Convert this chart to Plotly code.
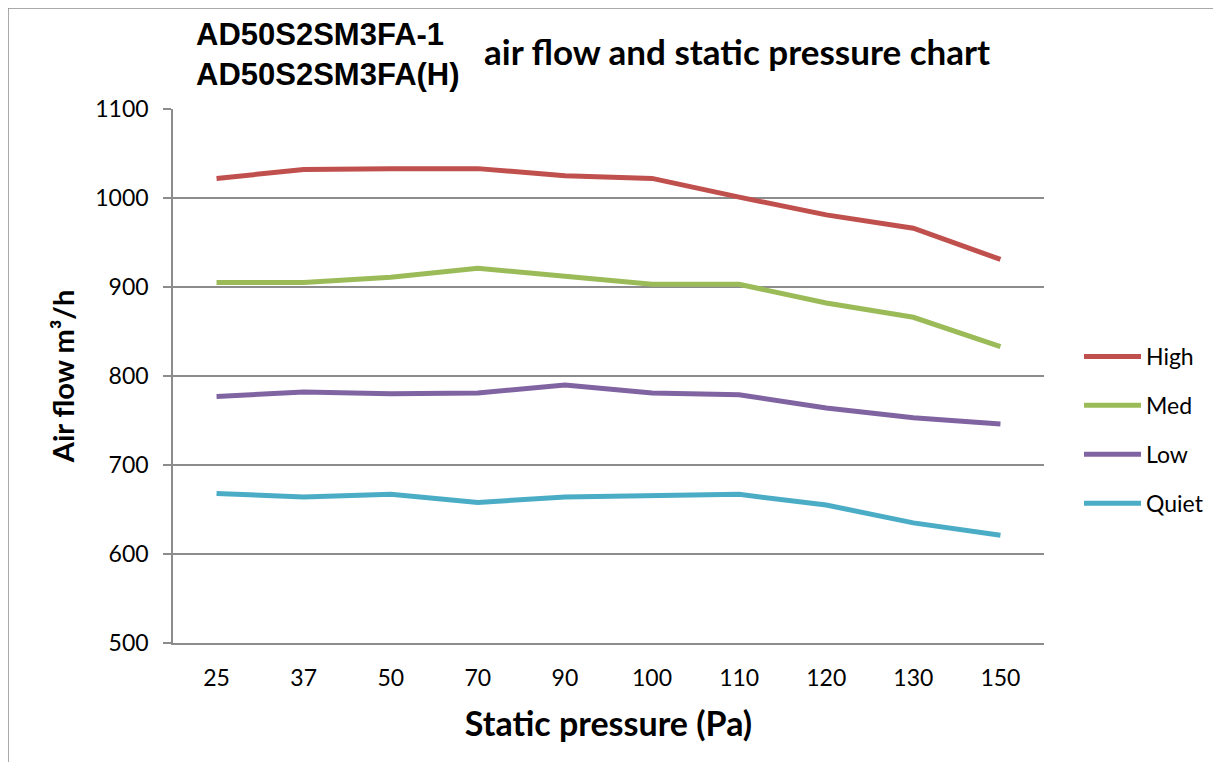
import plotly.graph_objects as go

pressure = ["25", "37", "50", "70", "90", "100", "110", "120", "130", "150"]
high = [1022, 1032, 1033, 1033, 1025, 1022, 1001, 981, 966, 931]
med = [905, 905, 911, 921, 912, 903, 903, 882, 866, 833]
low = [777, 782, 780, 781, 790, 781, 779, 764, 753, 746]
quiet = [668, 664, 667, 658, 664, 665, 667, 655, 635, 621]

series = [("High", high, "#C0504D"), ("Med", med, "#9BBB59"),
          ("Low", low, "#8064A2"), ("Quiet", quiet, "#4BACC6")]

OFF = 8  # page body margin
W, H = 1221 - OFF, 762 - OFF
L, R, T, B = 173 - OFF, 177, 109 - OFF, 119
pw, ph = W - L - R, H - T - B

def px(x):  # screen x -> paper
    return (x - OFF - L) / pw

def py(y):  # screen y -> paper
    return (H - B - (y - OFF)) / ph

fig = go.Figure()
for name, vals, col in series:
    fig.add_trace(go.Scatter(x=pressure, y=vals, name=name, mode="lines",
                             legendgroup=name,
                             line=dict(color=col, width=5)))

grid = "#8c8c8c"
fig.update_layout(
    width=W, height=H,
    margin=dict(l=L, r=R, t=T, b=B),
    paper_bgcolor="white", plot_bgcolor="white",
    font=dict(family="Lato", color="black"),
    xaxis=dict(type="category", range=[-0.5, 9.5], showgrid=False,
               showline=True, linecolor=grid, linewidth=1.5,
               ticks="", ticklabelstandoff=14,
               tickfont=dict(size=23, family="Lato"),
               title=dict(text="<b>Static pressure (Pa)</b>",
                          font=dict(size=34, family="Lato"), standoff=22)),
    yaxis=dict(range=[500, 1100], dtick=100, showgrid=True,
               gridcolor=grid, gridwidth=1.5, zeroline=False,
               showline=True, linecolor=grid, linewidth=1.5,
               ticks="outside", ticklen=8, tickcolor=grid, tickwidth=1.5,
               ticklabelstandoff=10,
               tickfont=dict(size=23, family="Lato"),
               title=dict(text="<b>Air flow m³/h</b>",
                          font=dict(size=29, family="Lato"), standoff=12)),
    legend=dict(x=px(1079), y=py(335), xanchor="left", yanchor="top",
                font=dict(size=23, family="Lato"), traceorder="grouped",
                tracegroupgap=16, itemwidth=57, bgcolor="rgba(0,0,0,0)"),
    showlegend=True,
)

fig.add_annotation(xref="paper", yref="paper", x=px(194), y=py(55),
                   xanchor="left", yanchor="middle", showarrow=False,
                   align="left",
                   text="<b>AD50S2SM3FA-1<br>AD50S2SM3FA(H)</b>",
                   font=dict(size=31, family="Liberation Sans", color="black"))
fig.add_annotation(xref="paper", yref="paper", x=px(482), y=py(51),
                   xanchor="left", yanchor="middle", showarrow=False,
                   text="<b>air flow and static pressure chart</b>",
                   font=dict(size=35, family="Lato", color="black"))

fig.add_shape(type="line", xref="paper", yref="paper",
              x0=px(8), x1=px(8), y0=py(8), y1=py(780),
              line=dict(color=grid, width=1.5))
fig.add_shape(type="line", xref="paper", yref="paper",
              x0=px(8), x1=px(1240), y0=py(8), y1=py(8),
              line=dict(color=grid, width=1.5))

fig.write_html("out.html")
